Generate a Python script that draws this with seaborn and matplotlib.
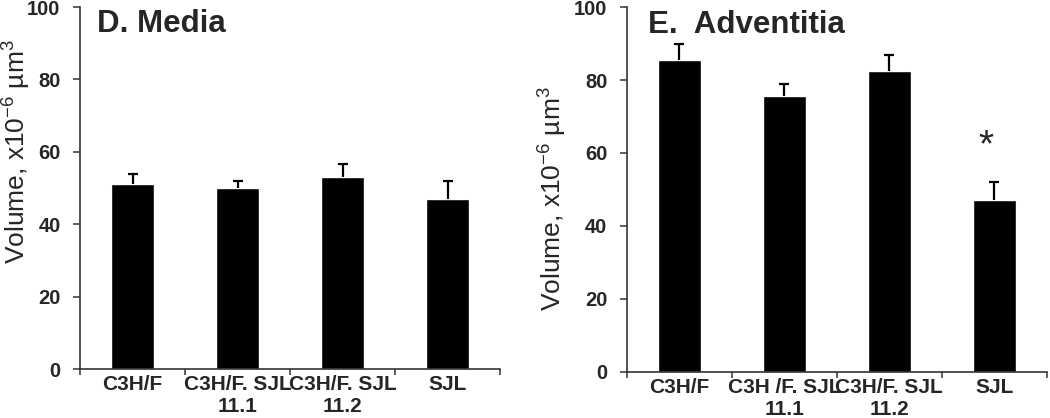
import numpy as np
import matplotlib
matplotlib.use("Agg")
import matplotlib.pyplot as plt
import seaborn as sns

# values (volume, x10^-6 um^3)
media_labels = ["C3H/F", "C3H/F. SJL\n11.1", "C3H/F. SJL\n11.2", "SJL"]
media_means = [51, 50, 53, 47]
media_err = [3, 2, 3.5, 5]

adv_labels = ["C3H/F", "C3H /F. SJL\n11.1", "C3H/F. SJL\n11.2", "SJL"]
adv_means = [85.5, 75.5, 82.5, 47]
adv_err = [4.5, 3.5, 4.5, 5]

sns.set_style("ticks")
plt.rcParams["font.family"] = ["Liberation Sans", "DejaVu Sans"]
plt.rcParams["mathtext.fontset"] = "custom"
plt.rcParams["mathtext.rm"] = "Liberation Sans"
plt.rcParams["mathtext.it"] = "Liberation Sans:italic"
plt.rcParams["mathtext.bf"] = "Liberation Sans:bold"

ylabel = r"Volume, x10$^{-6}$ µm$^{3}$"


def panel(ax, labels, means, err, title, title_x, label_xy):
    sns.barplot(x=labels, y=means, order=labels, color="black", saturation=1,
                width=0.41, errorbar=None, ax=ax, zorder=2)
    eb = ax.errorbar(x=np.arange(len(means)), y=means,
                     yerr=[np.zeros(len(err)), err], fmt="none", ecolor="black",
                     elinewidth=1.6, capsize=3.8, capthick=1.6, zorder=3)
    # only the upper half of the error bar is shown
    eb[1][0].set_visible(False)
    ax.set_xlim(-0.5, len(means) - 0.5)
    ax.set_ylim(0, 100)
    ax.set_yticks([0, 20, 40, 60, 80, 100])
    sns.despine(ax=ax)
    for s in ["left", "bottom"]:
        ax.spines[s].set_color("#333333")
        ax.spines[s].set_linewidth(1.2)
    ax.set_xticks(np.arange(-0.5, len(means)), minor=True)
    ax.tick_params(axis="x", which="major", length=0, pad=4.5)
    ax.tick_params(axis="x", which="minor", length=4.5, width=1.1,
                   color="#333333", direction="out")
    ax.tick_params(axis="y", length=5, width=1.1, color="#333333", pad=9)
    for t in ax.get_xticklabels():
        t.set_fontsize(15)
        t.set_fontweight("bold")
    for t in ax.get_yticklabels():
        t.set_fontsize(14.5)
        t.set_fontweight("bold")
    ax.set_xlabel("")
    ax.set_ylabel(ylabel, fontsize=19)
    ax.yaxis.set_label_coords(*label_xy)
    ax.text(title_x, 0.93, title, transform=ax.transAxes, fontsize=22.5,
            fontweight="bold", va="baseline", ha="left")


fig = plt.figure(figsize=(10.5, 4.18), dpi=100)
ax1 = fig.add_axes([0.0762, 0.1172, 0.4, 0.866])
ax2 = fig.add_axes([0.597, 0.1108, 0.4, 0.872])

panel(ax1, media_labels, media_means, media_err, "D. Media", 0.04, (-0.113, 0.6))
panel(ax2, adv_labels, adv_means, adv_err, "E.  Adventitia", 0.05, (-0.138, 0.474))

# significance mark over SJL
ax2.text(2.92, 59, "*", ha="center", va="baseline", fontsize=28)

fig.savefig("out.png", dpi=100)
